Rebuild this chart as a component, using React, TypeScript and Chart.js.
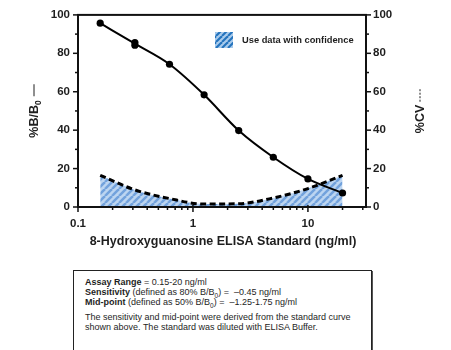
import React, { useEffect, useRef } from "react";
import { Chart, registerables } from "chart.js";

Chart.register(...registerables);

// ---- data ----
const standardConc = [0.156, 0.3125, 0.625, 1.25, 2.5, 5, 10, 20];
const replicateConc = [0.156, 0.3125, 0.3125, 0.625, 1.25, 2.5, 5, 10, 20];
const replicateBB0 = [95.7, 85.6, 84.2, 74.3, 58.4, 39.8, 25.9, 14.6, 7.3];
const curveBB0 = [95.7, 85.0, 74.3, 58.4, 39.8, 25.9, 14.6, 7.3];
const cvPercent = [16.5, 8.9, 4.4, 1.5, 1.7, 4.7, 9.6, 16.5];
const yMajorTicks = [0, 20, 40, 60, 80, 100];
const yMinorTicks = [10, 30, 50, 70, 90];
const xMajorTicks = [0.1, 1, 10];
const xMinorTicks = [0.2, 0.3, 0.4, 0.5, 0.6, 0.7, 0.8, 0.9, 2, 3, 4, 5, 6, 7, 8, 9, 20, 30];
const xTitle = "8-Hydroxyguanosine ELISA Standard (ng/ml)";
const legendText = "Use data with confidence";

const FONT = "'Liberation Sans', Arial, Helvetica, sans-serif";
const INK = "#1e1e1e";

function makePattern(bg: string, stripe: string, size: number): CanvasPattern | string {
  const c = document.createElement("canvas");
  c.width = size;
  c.height = size;
  const g = c.getContext("2d");
  if (!g) return bg;
  g.fillStyle = bg;
  g.fillRect(0, 0, size, size);
  g.strokeStyle = stripe;
  g.lineWidth = size / Math.SQRT2 / 2;
  for (const x0 of [-size, 0, size]) {
    g.beginPath();
    g.moveTo(x0, size);
    g.lineTo(x0 + size, 0);
    g.stroke();
  }
  return g.createPattern(c, "repeat") || bg;
}

export default function App() {
  const ref = useRef<HTMLCanvasElement | null>(null);

  useEffect(() => {
    const canvas = ref.current;
    if (!canvas) return;
    const fillPattern = makePattern("#bcd5f1", "#72a2dc", 7);
    const legendPattern = makePattern("#a9cbec", "#2473bd", 6);

    const decor = {
      id: "decor",
      afterDraw(chart: any) {
        const ctx = chart.ctx as CanvasRenderingContext2D;
        const { left, right, top, bottom } = chart.chartArea;
        const xs = chart.scales.x;
        const ys = chart.scales.y;
        ctx.save();
        ctx.strokeStyle = "#111";
        ctx.lineWidth = 2;
        ctx.strokeRect(left, top, right - left, bottom - top);

        ctx.lineWidth = 1.5;
        const line = (x1: number, y1: number, x2: number, y2: number) => {
          ctx.beginPath();
          ctx.moveTo(x1, y1);
          ctx.lineTo(x2, y2);
          ctx.stroke();
        };
        for (const v of yMajorTicks) {
          const p = ys.getPixelForValue(v);
          line(left - 5, p, left, p);
          line(right, p, right + 5, p);
        }
        for (const v of yMinorTicks) {
          const p = ys.getPixelForValue(v);
          line(left - 3, p, left, p);
          line(right, p, right + 3, p);
        }
        for (const v of xMajorTicks) {
          const p = xs.getPixelForValue(v);
          line(p, bottom - 2, p, bottom + 5);
        }
        for (const v of xMinorTicks) {
          const p = xs.getPixelForValue(v);
          line(p, bottom, p, bottom + 3);
        }

        // x title
        ctx.fillStyle = INK;
        ctx.font = `bold 12.5px ${FONT}`;
        ctx.textAlign = "center";
        ctx.textBaseline = "middle";
        ctx.fillText(xTitle, (left + right) / 2 + 1, 242);

        // left title: %B/B0 —
        const cy = (top + bottom) / 2;
        ctx.save();
        ctx.translate(35, cy);
        ctx.rotate(-Math.PI / 2);
        ctx.textAlign = "left";
        ctx.textBaseline = "middle";
        ctx.font = `bold 12.5px ${FONT}`;
        const main = "%B/B";
        const wMain = ctx.measureText(main).width;
        ctx.font = `bold 8.5px ${FONT}`;
        const wSub = ctx.measureText("0").width;
        const dashLen = 12;
        const total = wMain + wSub + 4 + dashLen;
        let sx = -total / 2;
        ctx.font = `bold 12.5px ${FONT}`;
        ctx.fillText(main, sx, 0);
        sx += wMain;
        ctx.font = `bold 8.5px ${FONT}`;
        ctx.fillText("0", sx, 4);
        sx += wSub + 4;
        ctx.lineWidth = 1;
        ctx.strokeStyle = INK;
        line(sx, -1, sx + dashLen, -1);
        ctx.restore();

        // right title: %CV ----
        ctx.save();
        ctx.translate(421, cy);
        ctx.rotate(-Math.PI / 2);
        ctx.textAlign = "left";
        ctx.textBaseline = "middle";
        ctx.font = `bold 12.5px ${FONT}`;
        const cvText = "%CV";
        const wCv = ctx.measureText(cvText).width;
        const dLen = 13;
        const tot2 = wCv + 3 + dLen;
        let rx = -tot2 / 2;
        ctx.fillStyle = INK;
        ctx.fillText(cvText, rx, 0);
        rx += wCv + 3;
        ctx.strokeStyle = INK;
        ctx.lineWidth = 1;
        ctx.setLineDash([2, 1.5]);
        line(rx, -1, rx + dLen, -1);
        ctx.setLineDash([]);
        ctx.restore();

        // legend
        ctx.fillStyle = legendPattern as any;
        ctx.fillRect(215, 32, 18, 16);
        ctx.fillStyle = INK;
        ctx.font = `bold 9.3px ${FONT}`;
        ctx.textAlign = "left";
        ctx.textBaseline = "middle";
        ctx.fillText(legendText, 242, 40.5);
        ctx.restore();
      },
    };

    const chart = new Chart(canvas, {
      type: "scatter",
      data: {
        datasets: [
          {
            label: "%B/B0 points",
            data: replicateConc.map((x, i) => ({ x, y: replicateBB0[i] })),
            showLine: false,
            pointRadius: 3.6,
            pointBackgroundColor: "#000",
            pointBorderColor: "#000",
            pointBorderWidth: 0,
            order: 0,
          },
          {
            label: "%B/B0 curve",
            data: standardConc.map((x, i) => ({ x, y: curveBB0[i] })),
            showLine: true,
            pointRadius: 0,
            borderColor: "#000",
            borderWidth: 2,
            cubicInterpolationMode: "monotone",
            order: 1,
          },
          {
            label: "%CV",
            data: standardConc.map((x, i) => ({ x, y: cvPercent[i] })),
            showLine: true,
            pointRadius: 0,
            borderColor: "#000",
            borderWidth: 3,
            borderDash: [6, 3.5],
            backgroundColor: fillPattern as any,
            fill: "origin",
            cubicInterpolationMode: "monotone",
            order: 2,
          },
        ],
      },
      options: {
        animation: false,
        responsive: false,
        devicePixelRatio: 1,
        layout: { padding: { top: 14, left: 0, right: 0, bottom: 0 } },
        plugins: {
          legend: { display: false },
          tooltip: { enabled: false },
        },
        scales: {
          x: {
            type: "logarithmic",
            min: 0.1,
            max: 32,
            grid: { display: false, drawTicks: false },
            border: { display: false },
            ticks: {
              autoSkip: false,
              maxRotation: 0,
              padding: 10,
              color: INK,
              font: { family: FONT, size: 11.5, weight: "bold" },
              callback: (v: any) => {
                const n = Number(v);
                if (Math.abs(n - 0.1) < 1e-9) return "0.1";
                if (Math.abs(n - 1) < 1e-9) return "1";
                if (Math.abs(n - 10) < 1e-9) return "10";
                return "";
              },
            },
            afterFit: (s: any) => {
              s.height = 55;
            },
          },
          y: {
            type: "linear",
            position: "left",
            min: 0,
            max: 100,
            grid: { display: false, drawTicks: false },
            border: { display: false },
            ticks: {
              stepSize: 20,
              padding: 8,
              color: INK,
              font: { family: FONT, size: 11.5, weight: "bold" },
            },
            afterFit: (s: any) => {
              s.width = 78;
            },
          },
          y2: {
            type: "linear",
            position: "right",
            min: 0,
            max: 100,
            grid: { display: false, drawTicks: false },
            border: { display: false },
            ticks: {
              stepSize: 20,
              padding: 7,
              color: INK,
              font: { family: FONT, size: 11.5, weight: "bold" },
            },
            afterFit: (s: any) => {
              s.width = 85;
            },
          },
        },
      },
      plugins: [decor],
    } as any);
    return () => chart.destroy();
  }, []);

  const boxFont = `9px ${FONT}`;
  return (
    <div
      style={{
        position: "absolute",
        left: 0,
        top: 0,
        width: 451,
        height: 350,
        overflow: "hidden",
        background: "#fff",
      }}
    >
      <canvas
        ref={ref}
        width={451}
        height={262}
        style={{ position: "absolute", left: 0, top: 0, width: 451, height: 262 }}
      />
      <div
        style={{
          position: "absolute",
          left: 73,
          top: 270,
          width: 299,
          height: 120,
          boxSizing: "border-box",
          border: "1px solid #222",
          boxShadow: "1px 1px 0 #555",
          padding: "6px 0 0 11px",
          font: boxFont,
          lineHeight: "10px",
          color: INK,
          whiteSpace: "nowrap",
        }}
      >
        <div>
          <b>Assay Range</b> = 0.15-20 ng/ml
        </div>
        <div>
          <b>Sensitivity</b> (defined as 80% B/B
          <sub style={{ fontSize: "6.5px", lineHeight: 0 }}>0</sub>) = &nbsp;–0.45 ng/ml
        </div>
        <div>
          <b>Mid-point</b> (defined as 50% B/B
          <sub style={{ fontSize: "6.5px", lineHeight: 0 }}>0</sub>) = &nbsp;–1.25-1.75 ng/ml
        </div>
        <div style={{ marginTop: 5 }}>
          The sensitivity and mid-point were derived from the standard curve
          <br />
          shown above. The standard was diluted with ELISA Buffer.
        </div>
      </div>
    </div>
  );
}
